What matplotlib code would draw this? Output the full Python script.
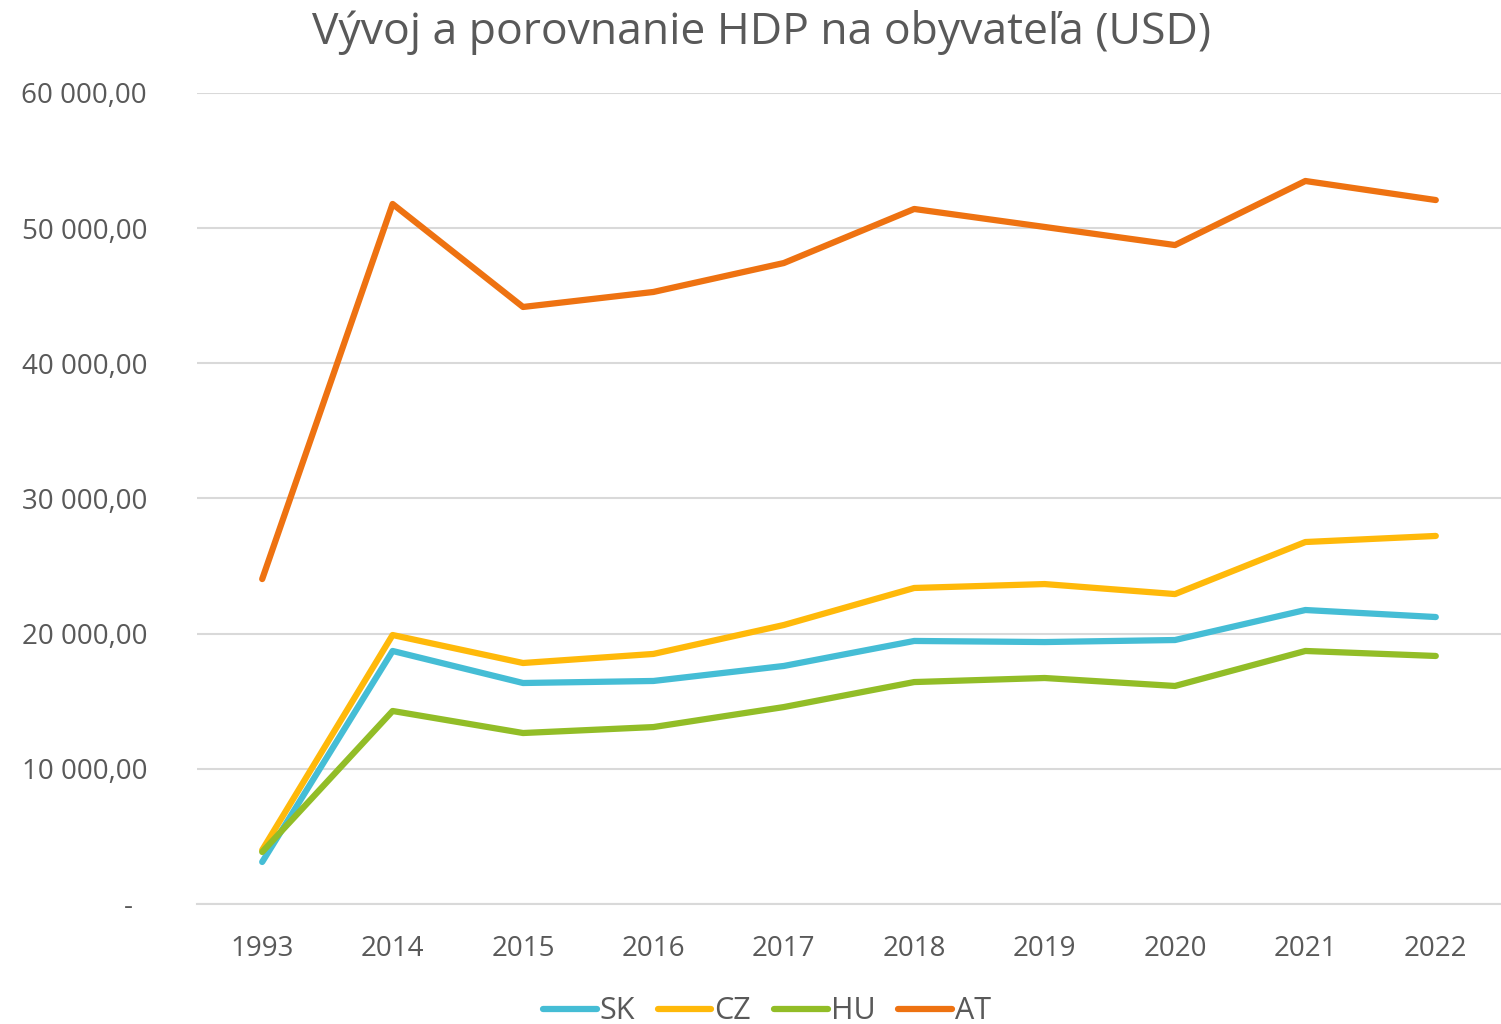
import matplotlib
matplotlib.use("Agg")
import matplotlib.pyplot as plt
from matplotlib.ticker import FuncFormatter

years = ["1993", "2014", "2015", "2016", "2017", "2018", "2019", "2020", "2021", "2022"]
sk = [3110, 18720, 16350, 16500, 17610, 19460, 19380, 19530, 21750, 21230]
cz = [3990, 19900, 17830, 18500, 20640, 23380, 23670, 22930, 26780, 27230]
hu = [3850, 14280, 12650, 13090, 14570, 16420, 16720, 16130, 18720, 18350]
at = [24040, 51790, 44170, 45280, 47420, 51420, 50090, 48750, 53490, 52080]

series = [("SK", sk, "#45BDD5"), ("CZ", cz, "#FFB90A"), ("HU", hu, "#92BD27"), ("AT", at, "#EE7211")]

plt.rcParams['font.family'] = ['Open Sans', 'DejaVu Sans']
text_color = "#595959"

fig = plt.figure(figsize=(15.01, 10.24), dpi=100)
ax = fig.add_axes([197/1501, 1 - 904/1024, (1501-197)/1501, (904-93)/1024])

x = list(range(len(years)))
for name, vals, col in series:
    ax.plot(x, vals, color=col, linewidth=4.5, label=name, solid_capstyle='round', solid_joinstyle='round')

ax.set_ylim(0, 60000)
ax.set_xlim(-0.5, len(years) - 0.5)
ax.set_yticks(range(0, 60001, 10000))

def fmt(v, pos):
    if v == 0:
        return "-  "
    s = f"{int(v):,}".replace(",", " ")
    return s + ",00"

ax.yaxis.set_major_formatter(FuncFormatter(fmt))
ax.set_xticks(x)
ax.set_xticklabels(years)
ax.grid(axis='y', color="#D9D9D9", linewidth=1.5)
ax.set_axisbelow(True)
for s in ["top", "right", "left"]:
    ax.spines[s].set_visible(False)
ax.spines["bottom"].set_color("#D9D9D9")
ax.spines["bottom"].set_linewidth(1.5)
ax.tick_params(axis='both', length=0, labelsize=20, colors=text_color)
ax.tick_params(axis='y', pad=36)
ax.tick_params(axis='x', pad=22)

fig.suptitle("Vývoj a porovnanie HDP na obyvateľa (USD)", x=0.507, y=0.99, fontsize=32, color=text_color)

leg = fig.legend(loc="lower center", bbox_to_anchor=(0.511, -0.029), ncol=4, frameon=False,
                 fontsize=22, handlelength=1.75, handletextpad=0.1, columnspacing=0.75, labelcolor=text_color)

fig.savefig("out.png", dpi=100)
